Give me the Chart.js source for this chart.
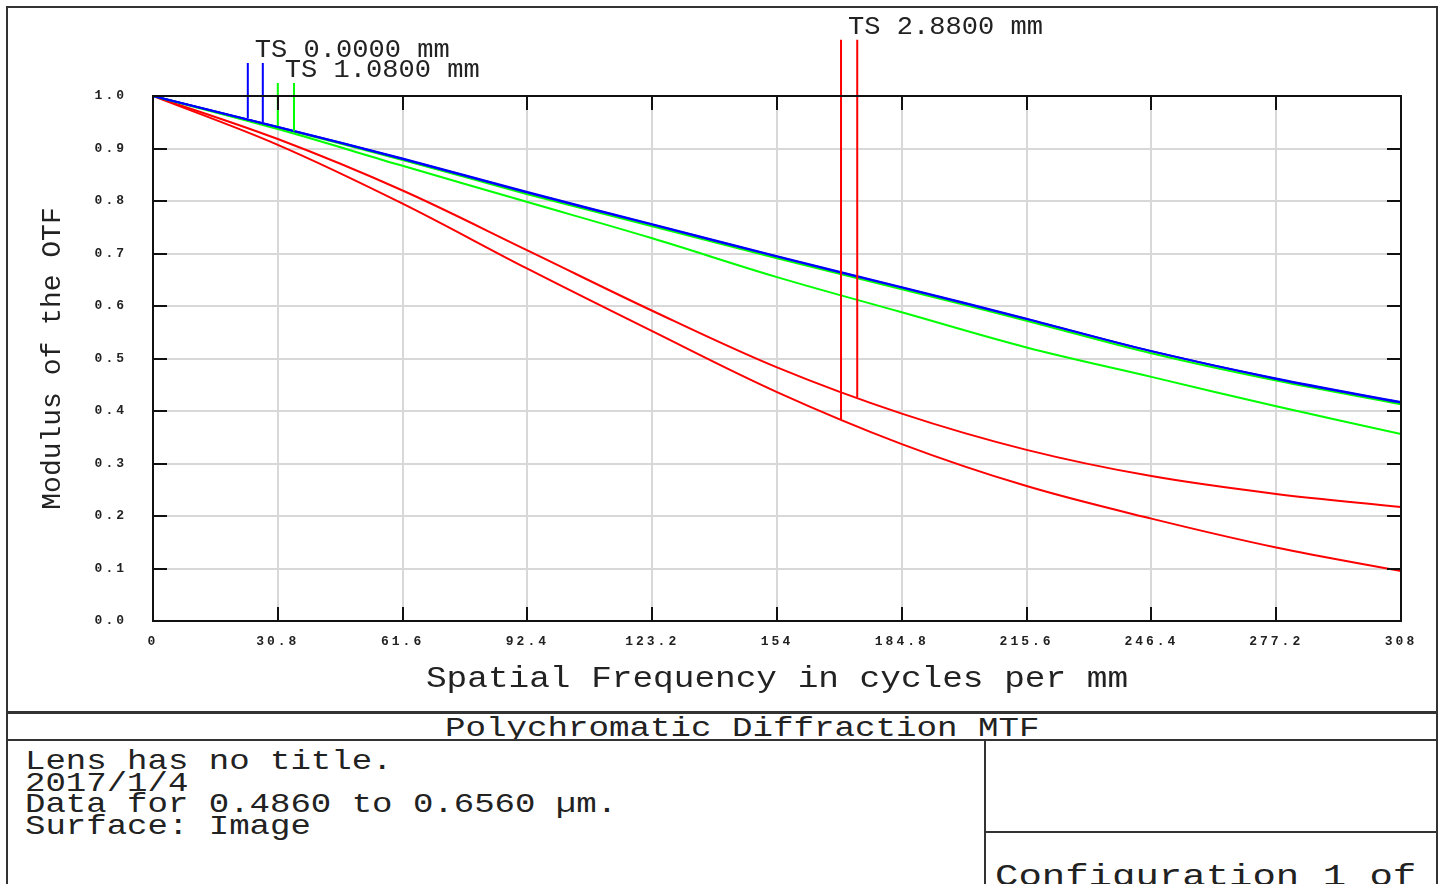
<!DOCTYPE html>
<html>
<head>
<meta charset="utf-8">
<script src="https://cdn.jsdelivr.net/npm/chart.js@4.4.1/dist/chart.umd.min.js"></script>
<style>
  html, body { margin: 0; padding: 0; background: #fff; }
  body { width: 1442px; height: 884px; overflow: hidden; position: relative; }
  #plot { position: absolute; left: 7px; top: 7px; width: 1430px; height: 705px; }
  .ln { position: absolute; background: #333; }
  .txt { position: absolute; font-family: "Liberation Mono", monospace; color: #222; white-space: nowrap; }
  .txt span { display: inline-block; transform-origin: left top; }
</style>
</head>
<body>
<div id="plot"><canvas id="mtf"></canvas></div>

<!-- frame of the report -->
<div class="ln" style="left:6px;top:6px;width:1432px;height:2px"></div>
<div class="ln" style="left:6px;top:6px;width:2px;height:878px"></div>
<div class="ln" style="left:1436px;top:6px;width:2px;height:878px"></div>
<div class="ln" style="left:6px;top:711px;width:1432px;height:3px"></div>
<div class="ln" style="left:6px;top:739px;width:1432px;height:2px"></div>
<div class="ln" style="left:984px;top:740px;width:2px;height:144px"></div>
<div class="ln" style="left:985px;top:831px;width:452px;height:2px"></div>

<div class="txt" style="left:445px;top:714px;width:700px;height:25px;overflow:hidden;font-size:28px;line-height:22px"><div style="position:relative;top:4px"><span style="transform:scaleX(1.22)">Polychromatic Diffraction MTF</span></div></div>
<div class="txt" style="left:25px;top:751px;font-size:28px;line-height:21.7px"><span style="transform:scaleX(1.215)">Lens has no title.</span><br><span style="transform:scaleX(1.215)">2017/1/4</span><br><span style="transform:scaleX(1.215)">Data for 0.4860 to 0.6560 µm.</span><br><span style="transform:scaleX(1.215)">Surface: Image</span></div>
<div class="txt" style="left:995px;top:866px;font-size:30px;line-height:22px"><span style="transform:scaleX(1.3)">Configuration 1 of</span></div>

<script>
// Frequency samples (cycles per mm) and tick labels
const freq = [0, 30.8, 61.6, 92.4, 123.2, 154, 184.8, 215.6, 246.4, 277.2, 308];
const xTickValues = [0, 30.8, 61.6, 92.4, 123.2, 154, 184.8, 215.6, 246.4, 277.2, 308];
const xTickLabels = ['0', '30.8', '61.6', '92.4', '123.2', '154', '184.8', '215.6', '246.4', '277.2', '308'];

// MTF values, T and S for each field
const field0T = [1.0, 0.941, 0.881, 0.817, 0.756, 0.695, 0.636, 0.576, 0.514, 0.462, 0.417];
const field0S = [1.0, 0.941, 0.880, 0.816, 0.755, 0.694, 0.635, 0.575, 0.514, 0.461, 0.416];
const field1T = [1.0, 0.940, 0.878, 0.813, 0.752, 0.691, 0.632, 0.572, 0.510, 0.458, 0.413];
const field1S = [1.0, 0.937, 0.867, 0.798, 0.729, 0.655, 0.588, 0.521, 0.465, 0.409, 0.356];
const field2T = [1.0, 0.907, 0.795, 0.671, 0.552, 0.436, 0.337, 0.257, 0.195, 0.140, 0.095];
const field2S = [1.0, 0.918, 0.820, 0.706, 0.591, 0.483, 0.395, 0.326, 0.276, 0.242, 0.217];

// legend markers: where each little vertical line sits
const fieldLabels = ['TS 0.0000 mm', 'TS 1.0800 mm', 'TS 2.8800 mm'];
const fieldColors = ['#0000ff', '#00ff00', '#ff0000'];
const markerFreq = [[23.4, 27.1], [30.8, 34.8], [169.8, 173.8]];
const markerTop = [1.063, 1.025, 1.107];
const markerBottom = [[0.958, 0.950], [0.943, 0.933], [0.383, 0.426]];

const curves = [field0T, field0S, field1T, field1S, field2T, field2S];
const curveField = [0, 0, 1, 1, 2, 2];

function toPoints(ys) {
    return ys.map((y, i) => ({ x: freq[i], y: y }));
}

let datasets = [];
// markers first so they sit on top
for (let f = 0; f < 3; f++) {
    for (let k = 0; k < 2; k++) {
        datasets.push({
            data: [{ x: markerFreq[f][k], y: markerTop[f] }, { x: markerFreq[f][k], y: markerBottom[f][k] }],
            borderColor: fieldColors[f],
            borderWidth: 2,
            pointRadius: 0,
            clip: false
        });
    }
}
for (let c = 0; c < curves.length; c++) {
    datasets.push({
        data: toPoints(curves[c]),
        borderColor: fieldColors[curveField[c]],
        borderWidth: 2,
        pointRadius: 0,
        tension: 0.35
    });
}

const FONT = '"Liberation Mono", monospace';

function stretchText(ctx, text, x, y, size, sx, align) {
    ctx.save();
    ctx.font = size + 'px ' + FONT;
    ctx.fillStyle = '#222';
    ctx.textBaseline = 'alphabetic';
    ctx.translate(x, y);
    ctx.scale(sx, 1);
    ctx.textAlign = align;
    ctx.fillText(text, 0, 0);
    ctx.restore();
}

// frame, inner tick marks and all the Zemax style text
const zemaxDecor = {
    id: 'zemaxDecor',
    beforeDraw(chart) { chart.ctx.letterSpacing = '3px'; },
    beforeDatasetsDraw(chart) { chart.ctx.letterSpacing = '0px'; },
    afterDraw(chart) {
        const ctx = chart.ctx;
        const a = chart.chartArea;
        const xs = chart.scales.x, ys = chart.scales.y;
        ctx.save();
        ctx.letterSpacing = '0px';
        ctx.strokeStyle = '#111';
        ctx.lineWidth = 2;
        ctx.strokeRect(a.left, a.top, a.right - a.left, a.bottom - a.top);
        ctx.beginPath();
        ys.ticks.forEach(t => {
            const py = Math.round(ys.getPixelForValue(t.value));
            ctx.moveTo(a.left, py); ctx.lineTo(a.left + 14, py);
            ctx.moveTo(a.right, py); ctx.lineTo(a.right - 14, py);
        });
        xs.ticks.forEach(t => {
            const px = Math.round(xs.getPixelForValue(t.value));
            ctx.moveTo(px, a.bottom); ctx.lineTo(px, a.bottom - 14);
            ctx.moveTo(px, a.top); ctx.lineTo(px, a.top + 14);
        });
        ctx.stroke();
        ctx.restore();

        // field labels
        for (let f = 0; f < 3; f++) {
            const px = xs.getPixelForValue(markerFreq[f][0]) + 7;
            const py = ys.getPixelForValue(markerTop[f]) - 6;
            stretchText(ctx, fieldLabels[f], px, py, 25, 1.083, 'left');
        }
        // axis titles
        stretchText(ctx, 'Spatial Frequency in cycles per mm', (a.left + a.right) / 2, a.bottom + 66, 30, 1.147, 'center');
        ctx.save();
        ctx.translate(53, (a.top + a.bottom) / 2);
        ctx.rotate(-Math.PI / 2);
        stretchText(ctx, 'Modulus of the OTF', 0, 0, 28, 1.0, 'center');
        ctx.restore();
    }
};

const tickFont = { family: FONT, size: 13, weight: 'bold' };

const config = {
    type: 'line',
    data: { datasets: datasets },
    options: {
        responsive: true,
        maintainAspectRatio: false,
        animation: false,
        layout: { padding: { top: 89, right: 36, left: 0, bottom: 0 } },
        plugins: { legend: { display: false }, tooltip: { enabled: false } },
        scales: {
            x: {
                type: 'linear',
                min: 0,
                max: 308,
                afterBuildTicks: s => { s.ticks = xTickValues.map(v => ({ value: v })); },
                afterFit: s => { s.height = 91; },
                ticks: {
                    color: '#222',
                    font: tickFont,
                    padding: 13,
                    maxRotation: 0,
                    autoSkip: false,
                    callback: (v) => xTickLabels[xTickValues.indexOf(v)]
                },
                grid: { color: '#d8d8d8', lineWidth: 2, drawTicks: false },
                border: { display: false }
            },
            y: {
                min: 0,
                max: 1,
                afterFit: s => { s.width = 146; },
                ticks: {
                    stepSize: 0.1,
                    color: '#222',
                    font: tickFont,
                    padding: 26,
                    callback: v => v.toFixed(1)
                },
                grid: { color: '#d8d8d8', lineWidth: 2, drawTicks: false },
                border: { display: false }
            }
        }
    },
    plugins: [zemaxDecor]
};

const theChart = new Chart(document.getElementById('mtf').getContext('2d'), config);
</script>
</body>
</html>
